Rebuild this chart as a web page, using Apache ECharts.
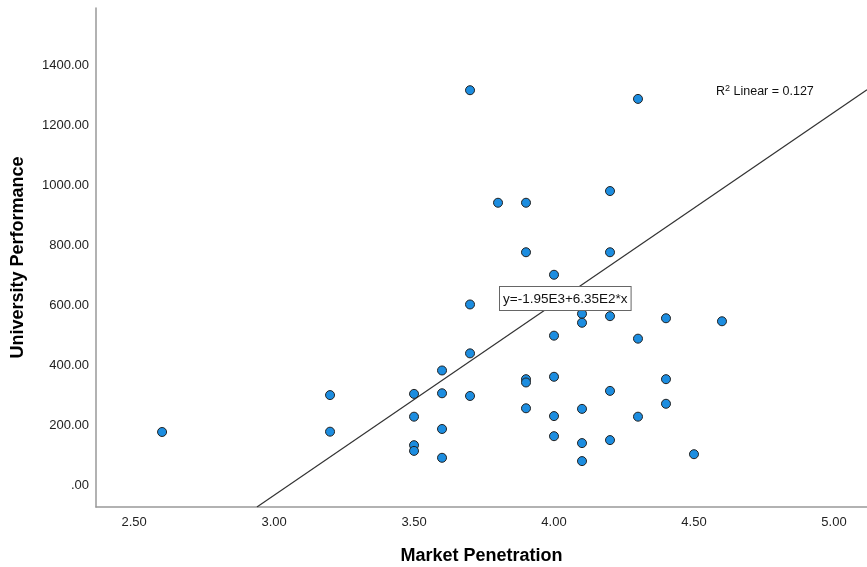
<!DOCTYPE html>
<html>
<head>
<meta charset="utf-8">
<script src="https://cdn.jsdelivr.net/npm/echarts@6/dist/echarts.min.js"></script>
<style>
  html, body { margin: 0; padding: 0; background: #fff; }
  #main { width: 867px; height: 567px; }
</style>
</head>
<body>
<div id="main"></div>
<script>
// scatter data
var penetration = [2.6, 3.2, 3.2, 3.5, 3.5, 3.5, 3.5, 3.6, 3.6, 3.6, 3.6,
    3.7, 3.7, 3.7, 3.7, 3.8, 3.9, 3.9, 3.9, 3.9, 3.9,
    4.0, 4.0, 4.0, 4.0, 4.0, 4.1, 4.1, 4.1, 4.1, 4.1,
    4.2, 4.2, 4.2, 4.2, 4.2, 4.3, 4.3, 4.3, 4.4, 4.4, 4.4, 4.5, 4.6];
var performance = [177, 300, 178, 304, 228, 133, 114, 382, 306, 187, 91,
    1316, 602, 439, 297, 941, 941, 776, 353, 342, 256,
    701, 498, 361, 230, 163, 571, 541, 254, 140, 80,
    980, 776, 563, 314, 150, 1287, 488, 228, 556, 353, 271, 103, 546];

var xTicks = [2.5, 3.0, 3.5, 4.0, 4.5, 5.0];
var yTicks = [0, 200, 400, 600, 800, 1000, 1200, 1400];

// fit line (y = a + b*x)
var fitA = -1948;
var fitB = 638;
var xMin = 2.364, xMax = 5.118;
var yMin = -73, yMax = 1590;

var points = penetration.map(function (x, i) { return [x, performance[i]]; });
var fitLine = [
    [(yMin - fitA) / fitB, yMin],
    [xMax, fitA + fitB * xMax]
];

var fmt = function (v) {
    var s = Number(v).toFixed(2);
    return s.indexOf('0.') === 0 ? s.slice(1) : s;
};

var myChart = echarts.init(document.getElementById('main'));
var option = {
    backgroundColor: '#fff',
    animation: false,
    grid: { left: 96, right: 0, top: 8, bottom: 60, outerBoundsMode: 'none', containLabel: false },
    xAxis: {
        type: 'value',
        min: xMin,
        max: xMax,
        name: 'Market Penetration',
        nameLocation: 'middle',
        nameGap: 40,
        nameTextStyle: { fontFamily: 'Liberation Sans', fontSize: 18, fontWeight: 'bold', color: '#000' },
        axisLine: { onZero: false, lineStyle: { color: '#999', width: 1.5 } },
        axisTick: { show: false },
        splitLine: { show: false },
        axisLabel: {
            customValues: xTicks,
            formatter: fmt,
            margin: 9,
            fontFamily: 'Liberation Sans',
            fontSize: 13,
            color: '#222'
        }
    },
    yAxis: {
        type: 'value',
        min: yMin,
        max: yMax,
        name: 'University Performance',
        nameLocation: 'middle',
        nameGap: 69,
        nameTextStyle: { fontFamily: 'Liberation Sans', fontSize: 18, fontWeight: 'bold', color: '#000' },
        axisLine: { onZero: false, show: true, lineStyle: { color: '#999', width: 1.5 } },
        axisTick: { show: false },
        splitLine: { show: false },
        axisLabel: {
            customValues: yTicks,
            formatter: fmt,
            margin: 7,
            fontFamily: 'Liberation Sans',
            fontSize: 13,
            color: '#222'
        }
    },
    graphic: [
        {
            type: 'text',
            left: 499,
            top: 286,
            style: {
                text: 'y=-1.95E3+6.35E2*x',
                fontFamily: 'Liberation Sans',
                fontSize: 13.5,
                fill: '#111',
                backgroundColor: '#fff',
                borderColor: '#666',
                borderWidth: 1,
                padding: [5, 3, 4, 3]
            },
            z: 100
        },
        {
            type: 'text',
            left: 716,
            top: 84,
            style: {
                rich: {
                    n: { fontFamily: 'Liberation Sans', fontSize: 12.5, fill: '#111' },
                    s: { fontFamily: 'Liberation Sans', fontSize: 9, fill: '#111', verticalAlign: 'top', padding: [0, 0, 6, 0] }
                },
                text: '{n|R}{s|2}{n| Linear = 0.127}'
            },
            z: 100
        }
    ],
    series: [
        {
            name: 'Fit',
            type: 'line',
            data: fitLine,
            symbol: 'none',
            silent: true,
            lineStyle: { color: '#333', width: 1.2 },
            z: 2
        },
        {
            name: 'Observed',
            type: 'scatter',
            data: points,
            symbol: 'circle',
            symbolSize: 9,
            itemStyle: { color: '#1c8de0', borderColor: '#222', borderWidth: 1, opacity: 1 },
            z: 3
        }
    ]
};

option && myChart.setOption(option);
</script>
</body>
</html>
